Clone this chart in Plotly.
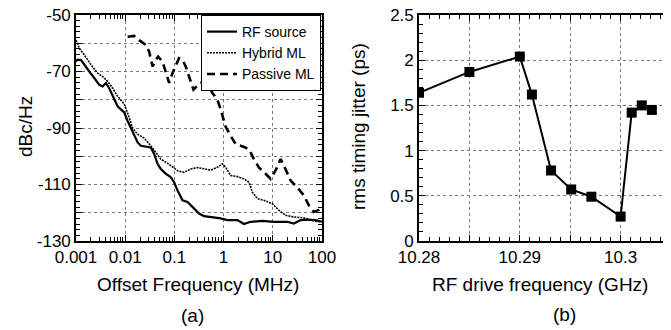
import plotly.graph_objects as go

# ---------- Panel (a): phase noise ----------
rf_f = [0.001, 0.00105, 0.00126, 0.00147, 0.00186, 0.00235, 0.00297, 0.00348, 0.00406, 0.00473,
        0.00598, 0.00701, 0.00818, 0.00955, 0.0112, 0.0130, 0.0141, 0.0152, 0.0179, 0.0208,
        0.0263, 0.0332, 0.0387, 0.0454, 0.0530, 0.0670, 0.0845, 0.0986, 0.116, 0.146,
        0.185, 0.251, 0.317, 0.400, 0.547, 0.873, 1.19, 1.91, 2.59, 3.55,
        6.12, 10.5, 19.7, 26.8, 36.6, 50.1, 73.8, 100]
rf_db = [-66.5, -65.9, -65.9, -67.6, -70.0, -72.3, -74.7, -75.3, -74.1, -75.9,
         -79.4, -82.3, -83.4, -84.5, -87.5, -90.0, -91.6, -92.5, -95.1, -96.3,
         -96.7, -96.9, -99.2, -102.7, -104.5, -106.2, -107.4, -109.2, -112.1, -115.6,
         -116.2, -118.5, -120.3, -121.2, -121.5, -122.0, -122.6, -122.6, -124.0, -123.2,
         -122.9, -123.2, -123.2, -123.8, -122.6, -122.4, -122.6, -123.2]

hy_f = [0.001, 0.00117, 0.00147, 0.00201, 0.00275, 0.00348, 0.00440, 0.00555, 0.00701, 0.00955,
        0.0121, 0.0141, 0.0179, 0.0243, 0.0332, 0.0420, 0.0530, 0.0724, 0.0914, 0.116,
        0.157, 0.215, 0.294, 0.400, 0.547, 0.748, 0.946, 1.10, 1.39, 1.91,
        2.59, 3.27, 3.84, 4.85, 6.59, 9.77, 13.3, 18.2, 26.8, 42.8,
        58.4, 86.1, 100]
hy_db = [-58.9, -61.8, -64.1, -67.6, -70.6, -71.8, -73.5, -75.9, -78.8, -81.5,
         -86.4, -90.0, -92.2, -93.6, -96.3, -98.7, -101.0, -102.5, -103.9, -105.1,
         -105.7, -104.5, -104.0, -104.5, -104.9, -103.9, -102.7, -103.9, -106.8, -107.2,
         -108.0, -109.2, -112.7, -115.0, -115.6, -116.8, -119.1, -120.9, -121.5, -121.8,
         -122.6, -123.2, -123.0]

pa_f = [0.0112, 0.0152, 0.0192, 0.0243, 0.0263, 0.0307, 0.0360, 0.0420, 0.0467, 0.0574,
        0.0670, 0.0780, 0.0914, 0.107, 0.124, 0.146, 0.170, 0.199, 0.244, 0.294,
        0.343, 0.400, 0.506, 0.593, 0.748, 0.873, 1.02, 1.10, 1.39, 1.76,
        2.59, 3.27, 4.14, 5.22, 7.14, 9.02, 11.4, 14.4, 16.8, 23.0,
        31.4, 42.8, 54.0, 68.2, 86.1, 100]
pa_db = [-57.7, -57.4, -58.9, -60.0, -60.6, -63.0, -68.2, -65.9, -64.7, -66.5,
         -70.0, -74.0, -70.6, -67.7, -65.3, -65.9, -68.2, -71.8, -76.4, -75.0,
         -74.1, -74.1, -75.3, -77.6, -80.0, -83.4, -87.5, -89.6, -92.8, -95.7,
         -96.7, -97.5, -101.0, -104.0, -106.2, -108.0, -105.0, -101.0, -103.3, -108.6,
         -111.0, -113.9, -117.4, -119.7, -119.0, -118.0]

a_xticks = [0.001, 0.01, 0.1, 1, 10, 100]
a_xticktext = ["0.001", "0.01", "0.1", "1", "10", "100"]
a_xminor = [m * 10 ** k for k in range(-3, 2) for m in range(2, 10)]
a_yticks = [-130, -120, -110, -100, -90, -80, -70, -60, -50]
a_yticktext = ["-130", "", "-110", "", "-90", "", "-70", "", "-50"]

# ---------- Panel (b): timing jitter ----------
drive_ghz = [10.28, 10.285, 10.29, 10.2912, 10.2931, 10.2951, 10.2971, 10.3, 10.3011, 10.3021, 10.3031]
jitter_ps = [1.64, 1.87, 2.04, 1.62, 0.78, 0.57, 0.49, 0.27, 1.42, 1.50, 1.45]

b_xticks = [10.28, 10.285, 10.29, 10.295, 10.3]
b_xticktext = ["10.28", "", "10.29", "", "10.3"]
b_yticks = [0, 0.5, 1, 1.5, 2, 2.5]
b_yticktext = ["0", "0.5", "1", "1.5", "2", "2.5"]

FONT = "Liberation Sans, Arial, sans-serif"
OFF = 8                     # page body margin of the browser
W, H = 671 - OFF, 330 - OFF
# reference-pixel geometry of the plot areas
A_L, A_R, P_T, P_B = 76, 322, 15, 241
B_L, B_R = 419, 671
L = A_L - OFF
T = P_T - OFF
B = H - (P_B - OFF)
R = W - (B_R - OFF)
PW, PH = W - L - R, H - T - B

fig = go.Figure()
fig.add_trace(go.Scatter(x=rf_f, y=rf_db, mode="lines", name="RF source",
                         line=dict(color="black", width=2.2), xaxis="x", yaxis="y"))
fig.add_trace(go.Scatter(x=hy_f, y=hy_db, mode="lines", name="Hybrid ML",
                         line=dict(color="black", width=1.6, dash="2px,1px"), xaxis="x", yaxis="y"))
fig.add_trace(go.Scatter(x=pa_f, y=pa_db, mode="lines", name="Passive ML",
                         line=dict(color="black", width=2.6, dash="8px,5px"), xaxis="x", yaxis="y"))
fig.add_trace(go.Scatter(x=drive_ghz, y=jitter_ps, mode="lines+markers", showlegend=False,
                         line=dict(color="black", width=2),
                         marker=dict(symbol="square", size=10, color="black"),
                         xaxis="x2", yaxis="y2"))

dom_a = [0, (A_R - A_L) / PW]
dom_b = [(B_L - A_L) / PW, 1.0]

common = dict(showline=True, linecolor="black", linewidth=1.6, mirror="ticks",
              ticks="inside", ticklen=6, tickcolor="black", automargin=False,
              ticklabeloverflow="allow",
              showgrid=True, gridcolor="#777", gridwidth=1, griddash="dot",
              zeroline=False, tickfont=dict(family=FONT, size=17, color="black"))

fig.update_layout(
    width=W, height=H, margin=dict(l=L, r=R, t=T, b=B, autoexpand=False),
    paper_bgcolor="white", plot_bgcolor="white",
    font=dict(family=FONT, size=15, color="black"),
    xaxis=dict(type="log", range=[-3, 2], domain=dom_a, tickvals=a_xticks, ticktext=a_xticktext,
               minor=dict(ticks="inside", ticklen=4, tickcolor="black", tickvals=a_xminor, showgrid=False),
               anchor="y", **common),
    yaxis=dict(range=[-130, -50], tickvals=a_yticks, ticktext=a_yticktext,
               minor=dict(ticks="inside", ticklen=4, tickcolor="black", dtick=2, showgrid=False),
               anchor="x", **common),
    xaxis2=dict(range=[10.28, 10.305], domain=dom_b, tickvals=b_xticks, ticktext=b_xticktext,
                minor=dict(ticks="inside", ticklen=4, tickcolor="black", dtick=0.001, tick0=10.28, showgrid=False),
                anchor="y2", **common),
    yaxis2=dict(range=[0, 2.5], tickvals=b_yticks, ticktext=b_yticktext,
                minor=dict(ticks="inside", ticklen=4, tickcolor="black", dtick=0.1, showgrid=False),
                anchor="x2", **common),
    legend=dict(x=(321 - A_L) / PW, xanchor="right", y=1.0, yanchor="top",
                bgcolor="white", bordercolor="black", borderwidth=1,
                font=dict(family=FONT, size=14, color="black"),
                itemwidth=30, tracegroupgap=0),
    showlegend=True,
)

def ann(text, x, y, angle=0, size=19):
    # x, y in reference-picture pixels
    fig.add_annotation(text=text, x=(x - A_L) / PW, y=(P_B - y) / PH, xref="paper", yref="paper",
                       showarrow=False, textangle=angle, xanchor="center", yanchor="middle",
                       font=dict(family=FONT, size=size, color="black"))

ann("dBc/Hz", 25, 127, angle=-90)
ann("rms timing jitter (ps)", 358, 127, angle=-90)
ann("Offset Frequency (MHz)", 198, 284)
ann("(a)", 192, 315)
ann("RF drive frequency (GHz)", 540, 284)
ann("(b)", 564, 314)

fig.write_html("out.html")
